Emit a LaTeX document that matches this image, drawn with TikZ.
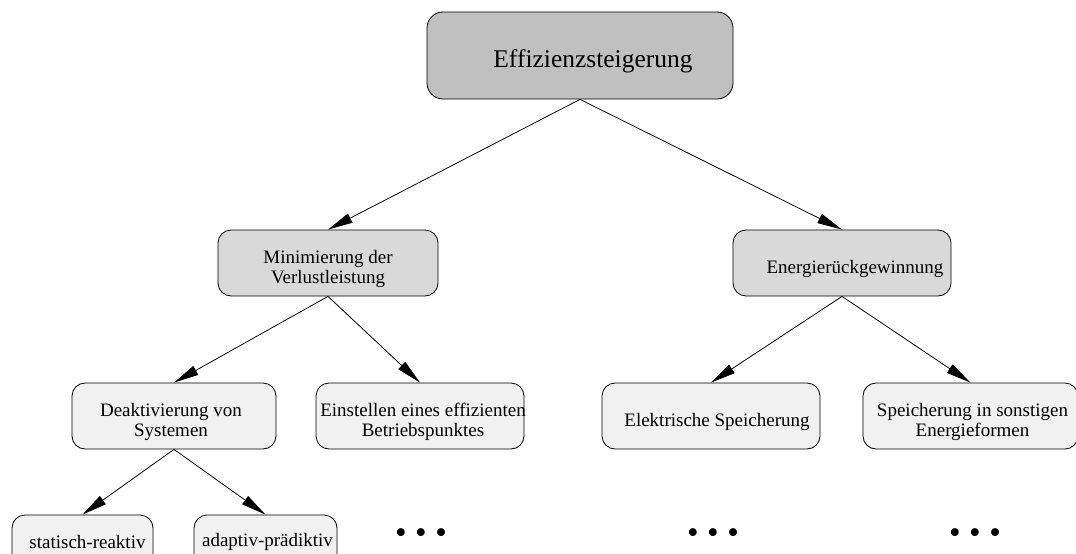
\documentclass[tikz,border=0pt]{standalone}
\usepackage{fontspec}
\setmainfont{Liberation Serif}
\usetikzlibrary{arrows.meta}
\definecolor{grauA}{RGB}{192,192,192}
\definecolor{grauB}{RGB}{217,217,217}
\definecolor{grauC}{RGB}{241,241,241}

\begin{document}
\begin{tikzpicture}[x=1pt, y=-1pt, line width=0.8pt,
    box/.style={draw, rounded corners=13pt, inner sep=0pt, minimum height=66pt},
    txt/.style={align=center, inner sep=0pt, yshift=-6pt, font=\fontsize{19}{20}\selectfont},
    pfeil/.style={-{Triangle[length=25pt, width=10pt]}},
    punkte/.style={font=\fontsize{33}{33}\selectfont}]
    \clip (0,0) rectangle (1076,554);
    % level 1
    \node[box, fill=grauA, rounded corners=16pt, minimum width=306pt, minimum height=87pt,
      label={[txt, xshift=13pt, font=\fontsize{25.5}{28}\selectfont]center:Effizienzsteigerung}](eff)at(580,55.5){};
    % level 2
    \node[box, fill=grauB, minimum width=220pt,
      label={[txt]center:Minimierung der\\Verlustleistung}](verl)at(328,263){};
    \node[box, fill=grauB, minimum width=218pt,
      label={[txt, xshift=13pt]center:Energierückgewinnung}](rueck)at(842,263){};
    % level 3
    \node[box, fill=grauC, minimum width=204pt,
      label={[txt, xshift=-3pt]center:Deaktivierung von\\Systemen}](deakt)at(174,416){};
    \node[box, fill=grauC, minimum width=208pt,
      label={[txt, xshift=3pt]center:Einstellen eines effizienten\\Betriebspunktes}](betr)at(420,416){};
    \node[box, fill=grauC, minimum width=218pt,
      label={[txt, xshift=6pt]center:Elektrische Speicherung}](elek)at(711,416){};
    \node[box, fill=grauC, minimum width=215pt,
      label={[txt, xshift=2pt]center:Speicherung in sonstigen\\Energieformen}](sonst)at(970.5,416){};
    % level 4
    \node[box, fill=grauC, minimum width=141pt,
      label={[txt, xshift=5pt, yshift=12pt]center:statisch-reaktiv}](stat)at(82.5,548){};
    \node[box, fill=grauC, minimum width=143pt,
      label={[txt, xshift=2pt, yshift=12pt]center:adaptiv-prädiktiv}](adapt)at(265.5,548){};
    \node[punkte](dotsA)at(421,536){•\hspace{8.5pt}•\hspace{8.5pt}•};
    \node[punkte](dotsB)at(713,536){•\hspace{8.5pt}•\hspace{8.5pt}•};
    \node[punkte](dotsC)at(975,536){•\hspace{8.5pt}•\hspace{8.5pt}•};
    % arrows
    \draw[pfeil](eff.south)to(verl.north);
    \draw[pfeil](eff.south)to(rueck.north);
    \draw[pfeil](verl.south)to(deakt.north);
    \draw[pfeil](verl.south)to(betr.north);
    \draw[pfeil](rueck.south)to(elek.north);
    \draw[pfeil](rueck.south)to(sonst.north);
    \draw[pfeil](deakt.south)to(stat.north);
    \draw[pfeil](deakt.south)to(adapt.north);
\end{tikzpicture}
\end{document}
